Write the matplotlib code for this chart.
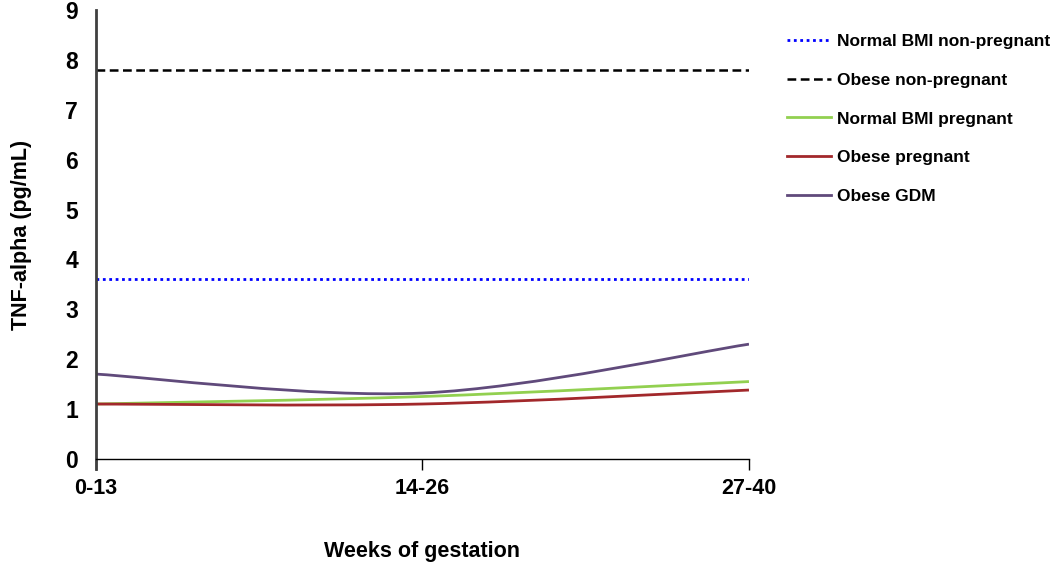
import matplotlib
matplotlib.use("Agg")
import matplotlib.pyplot as plt
from matplotlib.path import Path
from matplotlib.patches import PathPatch
from matplotlib.lines import Line2D

plt.rcParams["font.family"] = ["Liberation Sans", "DejaVu Sans"]
plt.rcParams["font.weight"] = "bold"

weeks = ["0-13", "14-26", "27-40"]
normal_nonpreg = [3.6, 3.6, 3.6]
obese_nonpreg = [7.8, 7.8, 7.8]
normal_preg = [1.1, 1.25, 1.55]
obese_preg = [1.1, 1.1, 1.38]
obese_gdm = [1.7, 1.32, 2.3]


def smooth_path(ys):
    # Excel-style smoothed line: cubic Bezier through each point
    xs = list(range(len(ys)))
    pts = list(zip(xs, ys))
    verts = [pts[0]]
    codes = [Path.MOVETO]
    n = len(pts)
    for i in range(n - 1):
        p0 = pts[max(i - 1, 0)]
        p1 = pts[i]
        p2 = pts[i + 1]
        p3 = pts[min(i + 2, n - 1)]
        c1 = (p1[0] + (p2[0] - p0[0]) / 6, p1[1] + (p2[1] - p0[1]) / 6)
        c2 = (p2[0] - (p3[0] - p1[0]) / 6, p2[1] - (p3[1] - p1[1]) / 6)
        verts += [c1, c2, p2]
        codes += [Path.CURVE4] * 3
    return Path(verts, codes)


fig = plt.figure(figsize=(10.5, 5.63), dpi=100)
ax = fig.add_axes([0.0914, 0.185, 0.6219, 0.797])

x = range(len(weeks))
ax.plot(x, normal_nonpreg, color="#0000FF", lw=2, linestyle=(0, (1, 1.3)))
ax.plot(x, obese_nonpreg, color="black", lw=1.8, linestyle=(0, (3.5, 1.8)))

series = [
    (normal_preg, "#92D050"),
    (obese_preg, "#A2282B"),
    (obese_gdm, "#604A7B"),
]
for ys, col in series:
    ax.add_patch(PathPatch(smooth_path(ys), fill=False, edgecolor=col, lw=2))

ax.set_xlim(0, 2)
ax.set_ylim(0, 9)
ax.set_xticks(list(x))
ax.set_xticklabels(weeks, fontsize=15.5, fontweight="bold")
ax.set_yticks(range(10))
ax.set_yticklabels([str(v) for v in range(10)], fontsize=16.5, fontweight="bold")
ax.tick_params(axis="y", length=0, pad=13)
ax.tick_params(axis="x", direction="out", length=8, width=1, pad=6)

for s in ["top", "right"]:
    ax.spines[s].set_visible(False)
ax.spines["left"].set_color("#404040")
ax.spines["left"].set_linewidth(2)
ax.spines["bottom"].set_linewidth(1)
ax.spines["left"].set_bounds(-0.2, 9)

ax.set_ylabel("TNF-alpha (pg/mL)", fontsize=15.5, fontweight="bold", labelpad=24)
ax.set_xlabel("Weeks of gestation", fontsize=15.5, fontweight="bold", labelpad=30)

handles = [
    Line2D([], [], color="#0000FF", lw=2, linestyle=(0, (1, 1.3))),
    Line2D([], [], color="black", lw=1.8, linestyle=(0, (3.5, 1.8))),
    Line2D([], [], color="#92D050", lw=2),
    Line2D([], [], color="#A2282B", lw=2),
    Line2D([], [], color="#604A7B", lw=2),
]
labels = [
    "Normal BMI non-pregnant",
    "Obese non-pregnant",
    "Normal BMI pregnant",
    "Obese pregnant",
    "Obese GDM",
]
fig.legend(handles, labels, loc="upper left", bbox_to_anchor=(0.735, 0.967),
           frameon=False, handlelength=2.5, handletextpad=0.35,
           labelspacing=1.35, prop={"size": 12.5, "weight": "bold"})

fig.savefig("out.png", dpi=100)
